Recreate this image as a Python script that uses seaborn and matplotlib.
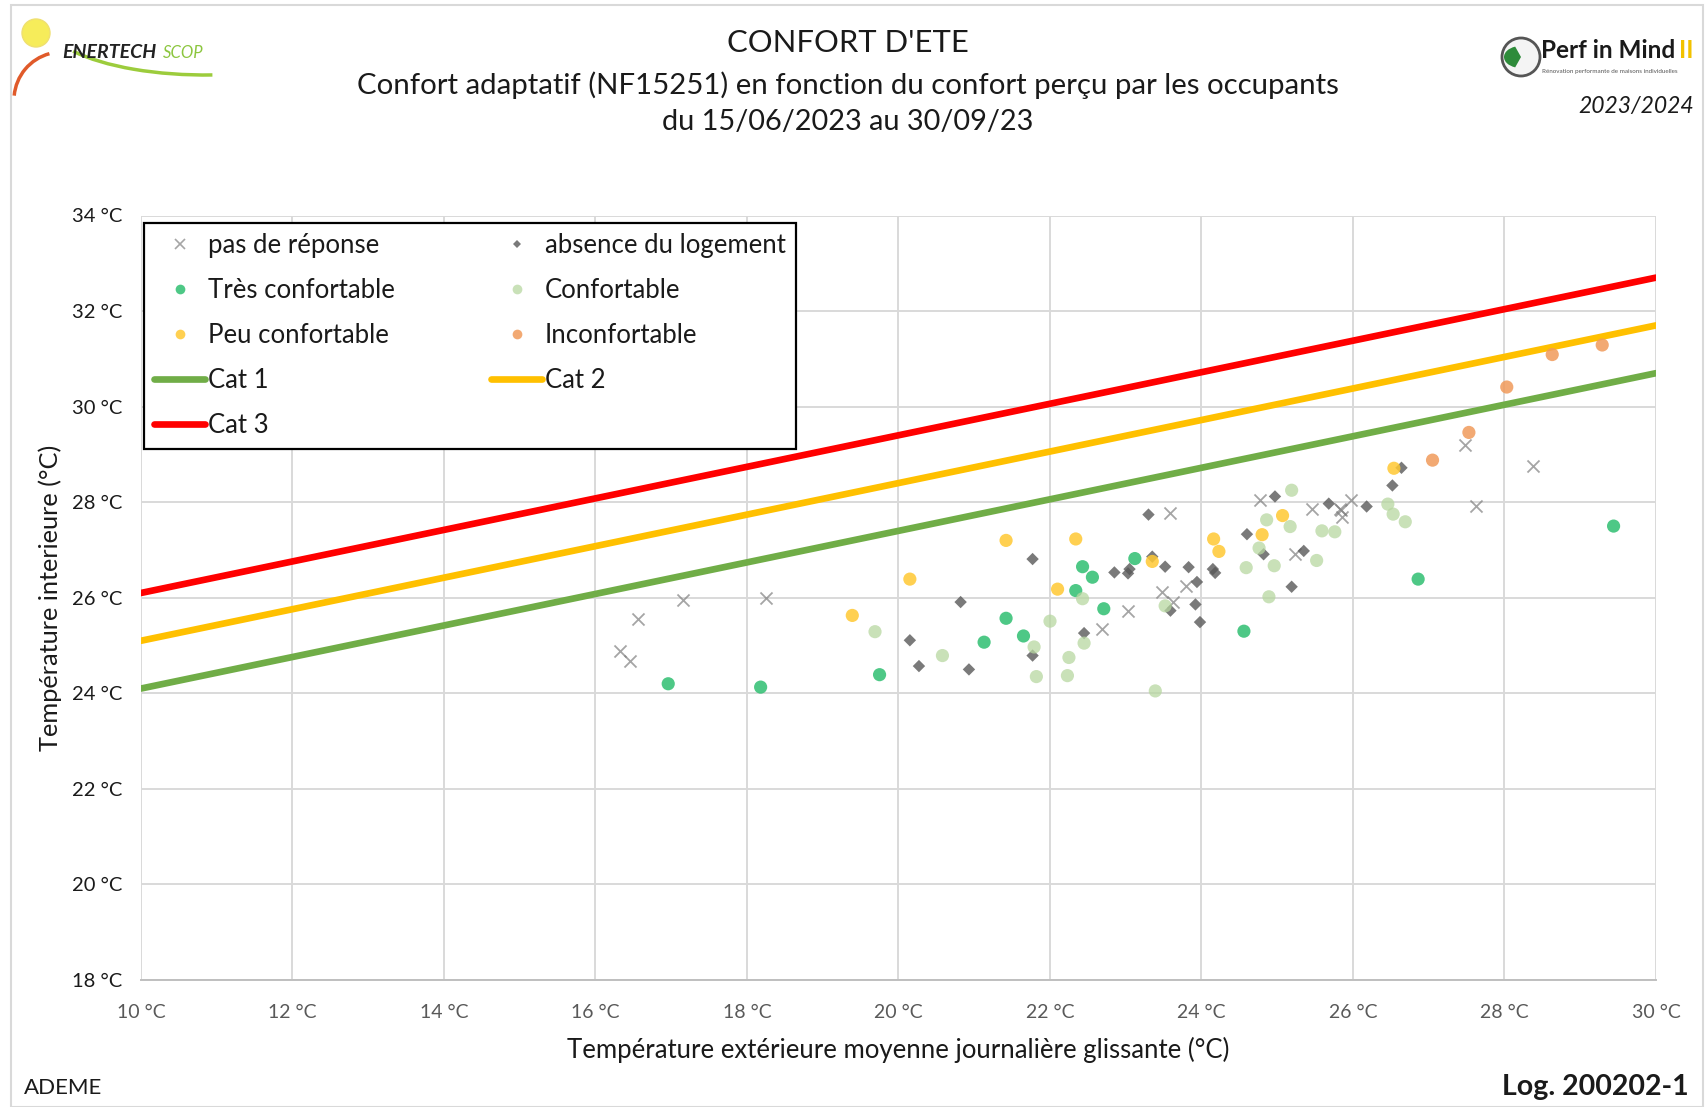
import matplotlib
matplotlib.use("Agg")
import matplotlib.pyplot as plt
from matplotlib.lines import Line2D
from matplotlib.patches import Rectangle, Ellipse, Arc, Wedge
import pandas as pd
import seaborn as sns

# ---- data ----
nr_x = [16.33, 16.45, 16.56, 17.15, 18.25, 22.68, 23.03, 23.59, 23.48, 23.63, 23.79,
        24.77, 25.24, 25.46, 25.83, 25.84, 25.85, 25.98, 27.48, 27.62, 28.37]
nr_y = [24.89, 24.67, 25.56, 25.95, 25.99, 25.35, 25.73, 27.77, 26.11, 25.91, 26.25,
        28.05, 26.91, 27.86, 27.86, 27.84, 27.68, 28.04, 29.19, 27.93, 28.76]

abs_x = [20.15, 20.27, 20.82, 20.93, 21.77, 21.77, 22.45, 22.85, 23.05, 23.03, 23.30,
         23.35, 23.52, 23.59, 23.83, 23.94, 23.92, 23.98, 24.15, 24.18, 24.60, 24.82,
         24.97, 25.19, 25.35, 25.68, 26.18, 26.52, 26.64]
abs_y = [25.11, 24.57, 25.91, 24.50, 26.81, 24.79, 25.26, 26.53, 26.60, 26.51, 27.74,
         26.86, 26.65, 25.73, 26.64, 26.33, 25.86, 25.49, 26.60, 26.52, 27.33, 26.91,
         28.12, 26.23, 26.98, 27.97, 27.91, 28.35, 28.72]

tres_x = [16.96, 18.18, 19.75, 21.13, 21.42, 21.65, 22.43, 22.56, 22.34, 22.71, 23.12,
          24.56, 26.86, 29.44]
tres_y = [24.20, 24.13, 24.39, 25.07, 25.57, 25.20, 26.65, 26.43, 26.15, 25.77, 26.82,
          25.30, 26.39, 27.50]

conf_x = [19.69, 20.58, 21.79, 21.82, 22.00, 22.43, 22.45, 22.25, 22.23, 23.52, 23.39,
          24.59, 24.76, 24.86, 24.96, 24.89, 25.17, 25.19, 25.52, 25.59, 25.76, 26.46,
          26.53, 26.69]
conf_y = [25.29, 24.79, 24.97, 24.35, 25.51, 25.98, 25.05, 24.75, 24.37, 25.83, 24.05,
          26.63, 27.04, 27.63, 26.67, 26.02, 27.49, 28.25, 26.78, 27.40, 27.38, 27.96,
          27.75, 27.59]

peu_x = [19.39, 20.15, 21.42, 22.10, 22.34, 23.35, 24.16, 24.23, 24.80, 25.07, 26.54]
peu_y = [25.63, 26.39, 27.20, 26.18, 27.23, 26.76, 27.23, 26.97, 27.32, 27.72, 28.71]

inc_x = [27.05, 27.53, 28.03, 28.63, 29.29]
inc_y = [28.88, 29.46, 30.41, 31.09, 31.29]

cat_x = [10, 30]
cat1_y = [24.1, 30.7]
cat2_y = [25.1, 31.7]
cat3_y = [26.1, 32.7]

x_ticks = [10, 12, 14, 16, 18, 20, 22, 24, 26, 28, 30]
y_ticks = [18, 20, 22, 24, 26, 28, 30, 32, 34]

W, H = 1706, 1107


def fx(px):
    return px / W


def fy(py):
    return 1 - py / H


sns.set_theme(style="white")
plt.rcParams["font.family"] = ["Lato", "DejaVu Sans"]

fig = plt.figure(figsize=(17.06, 11.07), dpi=100)
ax = fig.add_axes([fx(141), fy(980), (1656 - 141) / W, (980 - 215.5) / H])

# comfort category lines
lines_df = pd.DataFrame({"x": cat_x * 3,
                         "y": cat1_y + cat2_y + cat3_y,
                         "cat": ["Cat 1"] * 2 + ["Cat 2"] * 2 + ["Cat 3"] * 2})
cat_colors = {"Cat 1": "#70ad47", "Cat 2": "#ffc000", "Cat 3": "#ff0000"}
sns.lineplot(data=lines_df, x="x", y="y", hue="cat", palette=cat_colors,
             linewidth=4.8, legend=False, ax=ax, zorder=2)

# survey answers
series = [
    ("pas de réponse", nr_x, nr_y, "x", "#7f7f7f", 0.7, 75, 1.3),
    ("absence du logement", abs_x, abs_y, "D", "#595959", 0.8, 40, 0),
    ("Très confortable", tres_x, tres_y, "o", "#2fbf71", 0.85, 90, 0),
    ("Confortable", conf_x, conf_y, "o", "#b7d7a0", 0.75, 90, 0),
    ("Peu confortable", peu_x, peu_y, "o", "#ffc832", 0.85, 90, 0),
    ("Inconfortable", inc_x, inc_y, "o", "#f09a5a", 0.85, 90, 0),
]
for name, xs, ys, mk, col, al, size, lw in series:
    sns.scatterplot(x=xs, y=ys, marker=mk, color=col, alpha=al, s=size,
                    linewidth=lw, edgecolor=col if mk == "x" else "none",
                    ax=ax, zorder=3)

ax.set_xlim(10, 30)
ax.set_ylim(18, 34)
ax.set_xticks(x_ticks)
ax.set_yticks(y_ticks)
ax.set_xticklabels([f"{t} °C" for t in x_ticks], color="#595959", fontsize=14)
ax.set_yticklabels([f"{t} °C" for t in y_ticks], color="#1a1a1a", fontsize=14.5)
ax.tick_params(axis="x", length=0, pad=17)
ax.tick_params(axis="y", length=0, pad=13.5)
ax.grid(True, color="#d9d9d9", linewidth=1.4)
ax.set_axisbelow(True)
for side in ["top", "right", "left"]:
    ax.spines[side].set_visible(False)
ax.spines["bottom"].set_color("#bfbfbf")
ax.spines["bottom"].set_linewidth(1.4)
ax.set_xlabel("")
ax.set_ylabel("")

fig.text(fx(898), fy(1050), "Température extérieure moyenne journalière glissante (°C)",
         ha="center", va="center", fontsize=18.5, color="#1a1a1a")
fig.text(fx(50), fy(598), "Température interieure (°C)", rotation=90,
         ha="center", va="center", fontsize=18.3, color="#1a1a1a")

# legend (filled column by column)
def mh(mk, col, al, ms):
    return Line2D([], [], marker=mk, color=col, alpha=al, linestyle="none",
                  markersize=ms, markeredgewidth=1.2 if mk == "x" else 0)


h = {
    "pas de réponse": mh("x", "#7f7f7f", 0.7, 7),
    "absence du logement": mh("D", "#595959", 0.8, 4.5),
    "Très confortable": mh("o", "#2fbf71", 0.85, 7),
    "Confortable": mh("o", "#b7d7a0", 0.75, 7),
    "Peu confortable": mh("o", "#ffc832", 0.85, 7),
    "Inconfortable": mh("o", "#f09a5a", 0.85, 7),
    "Cat 1": Line2D([], [], color="#70ad47", linewidth=4.8),
    "Cat 2": Line2D([], [], color="#ffc000", linewidth=4.8),
    "Cat 3": Line2D([], [], color="#ff0000", linewidth=4.8),
}
order = ["pas de réponse", "Très confortable", "Peu confortable", "Cat 1", "Cat 3",
         "absence du logement", "Confortable", "Inconfortable", "Cat 2"]
leg = ax.legend([h[k] for k in order], order, ncol=2, loc="upper left",
                bbox_to_anchor=(fx(143.6), fy(223)),
                bbox_transform=fig.transFigure, fontsize=18.5, frameon=True,
                fancybox=False, edgecolor="black", framealpha=1,
                handlelength=2.0, handletextpad=0.1, columnspacing=3.75,
                labelspacing=0.78, borderpad=0.4, borderaxespad=0)
leg.get_frame().set_linewidth(1.6)
for t in leg.get_texts():
    t.set_color("#1a1a1a")

# titles and annotations
fig.text(fx(848), fy(43), "CONFORT D'ETE", ha="center", va="center",
         fontsize=22.3, color="#1a1a1a")
fig.text(fx(848), fy(85),
         "Confort adaptatif (NF15251) en fonction du confort perçu par les occupants",
         ha="center", va="center", fontsize=21.2, color="#1a1a1a")
fig.text(fx(848), fy(122), "du 15/06/2023 au 30/09/23", ha="center",
         va="center", fontsize=20.8, color="#1a1a1a")
fig.text(fx(1694), fy(107), "2023/2024", ha="right", va="center",
         fontsize=16.5, style="italic", color="#1a1a1a")
fig.text(fx(24), fy(1088), "ADEME", ha="left", va="center",
         fontsize=16, color="#1a1a1a")
fig.text(fx(1689), fy(1087), "Log. 200202-1", ha="right", va="center",
         fontsize=20.5, fontweight="bold", color="#1a1a1a")

# Enertech logo (rough)
fig.patches.append(Ellipse((fx(36), fy(33)), 28 / W, 28 / H, transform=fig.transFigure,
                           facecolor="#f6ec5a", edgecolor="#efe070", zorder=5))
fig.patches.append(Arc((fx(62), fy(100)), 96 / W, 96 / H, theta1=100,
                       theta2=172, transform=fig.transFigure, color="#e05a2a", lw=2.5))
fig.patches.append(Arc((fx(205), fy(20)), 320 / W, 110 / H, theta1=200,
                       theta2=275, transform=fig.transFigure, color="#9ccc3c", lw=2.5))
fig.text(fx(62), fy(52), "ENERTECH", ha="left", va="center", fontsize=14,
         style="italic", fontweight="bold", color="#222222")
fig.text(fx(163), fy(53), "SCOP", ha="left", va="center", fontsize=12,
         style="italic", color="#8cc63f")

# Perf in Mind logo (rough)
fig.patches.append(Ellipse((fx(1521), fy(57)), 38 / W, 38 / H, transform=fig.transFigure,
                           facecolor="#f4f4f4", edgecolor="#555555", lw=2, zorder=5))
fig.patches.append(Wedge((fx(1521), fy(57)), 17 / W, 110, 250, transform=fig.transFigure,
                         facecolor="#2e8b3a", edgecolor="none", zorder=6))
fig.text(fx(1541), fy(50), "Perf in Mind", ha="left", va="center", fontsize=17.5,
         fontweight="bold", color="#1a1a1a")
fig.text(fx(1679), fy(50), "II", ha="left", va="center", fontsize=17.5,
         fontweight="bold", color="#f2c200")
fig.text(fx(1542), fy(71), "Rénovation performante de maisons individuelles",
         ha="left", va="center", fontsize=4.5, color="#555555")

# outer chart frame
fig.patches.append(Rectangle((fx(11), 0), 1692 / W, 1 - 5 / H,
                             transform=fig.transFigure, fill=False,
                             edgecolor="#d9d9d9", lw=1.5))

fig.savefig("out.png", dpi=100)
